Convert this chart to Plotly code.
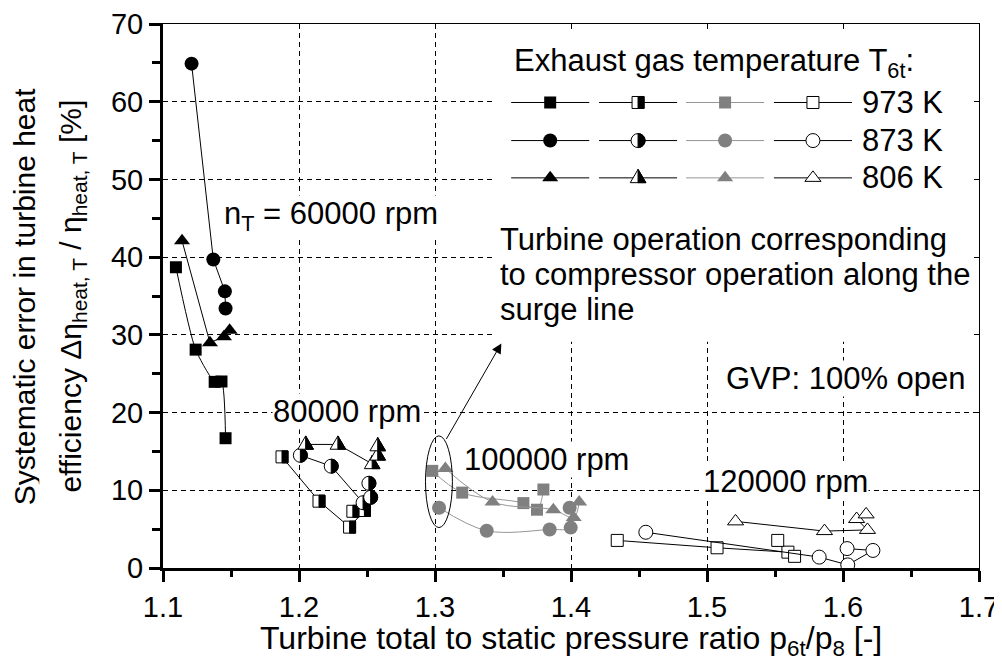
import plotly.graph_objects as go

# ---------------- data ----------------
# 60000 rpm (black filled markers)
x60_sq = [1.1095, 1.124, 1.138, 1.143, 1.146]
y60_sq = [38.7, 28.1, 23.95, 24.0, 16.7]
x60_ci = [1.121, 1.137, 1.1455, 1.146]
y60_ci = [64.9, 39.7, 35.6, 33.4]
x60_tr = [1.114, 1.1345, 1.1448, 1.149]
y60_tr = [42.1, 29.0, 29.75, 30.6]

# 80000 rpm (half-filled markers)
x80_sq = [1.1875, 1.2147, 1.2372, 1.2481, 1.2396]
y80_sq = [14.3, 8.6, 5.26, 7.4, 7.3]
x80_ci = [1.2010, 1.2237, 1.2471, 1.2527, 1.2514]
y80_ci = [14.5, 13.1, 8.4, 9.1, 10.9]
x80_tr = [1.2049, 1.2286, 1.2538, 1.2579, 1.2579]
y80_tr = [15.9, 15.9, 13.4, 14.5, 15.7]

# 100000 rpm (grey filled markers)
x100_sq = [1.298, 1.32, 1.365, 1.375, 1.3797]
y100_sq = [12.5, 9.7, 8.35, 7.5, 10.1]
x100_ci = [1.303, 1.338, 1.3843, 1.3998, 1.399]
y100_ci = [7.76, 4.8, 4.96, 5.2, 7.76]
x100_tr = [1.3076, 1.3423, 1.387, 1.402, 1.406]
y100_tr = [12.8, 8.5, 7.5, 6.5, 8.5]

# 120000 rpm (open markers)
x120_sq = [1.434, 1.5074, 1.5595, 1.552, 1.5644]
y120_sq = [3.55, 2.6, 2.04, 3.55, 1.5]
x120_ci = [1.455, 1.5825, 1.6035, 1.622, 1.603]
y120_ci = [4.6, 1.4, 0.4, 2.26, 2.5]
x120_tr = [1.521, 1.5864, 1.618, 1.61, 1.617]
y120_tr = [6.0, 4.75, 4.9, 6.3, 6.9]

temp_labels = ["973 K", "873 K", "806 K"]
x_ticks = [1.1, 1.2, 1.3, 1.4, 1.5, 1.6, 1.7]
y_ticks = [0, 10, 20, 30, 40, 50, 60, 70]

# ---------------- styles ----------------
FONT = "Liberation Sans, Arial, sans-serif"
GREY_M = "#808080"
GREY_L = "#969696"
SYM = {"sq": "square", "ci": "circle", "tr": "triangle-up"}
MSIZE = {"sq": 12, "ci": 14, "tr": 14}

fig = go.Figure()


def half_markers(xs, ys, kind, xref, yref):
    """Half-filled (right half black) markers drawn as pixel-sized shapes anchored on data."""
    for x, y in zip(xs, ys):
        common = dict(xref=xref, yref=yref, xsizemode="pixel", ysizemode="pixel",
                      xanchor=x, yanchor=y, layer="above")
        if kind == "sq":
            a = 6
            fig.add_shape(type="rect", x0=-a, x1=a, y0=-a, y1=a, fillcolor="white",
                          line=dict(color="black", width=1), **common)
            fig.add_shape(type="rect", x0=0, x1=a, y0=-a, y1=a, fillcolor="black",
                          line=dict(color="black", width=1), **common)
        elif kind == "ci":
            r = 7
            k = 0.5523 * r
            fig.add_shape(type="circle", x0=-r, x1=r, y0=-r, y1=r, fillcolor="white",
                          line=dict(color="black", width=1), **common)
            fig.add_shape(type="path",
                          path=f"M0,{r} C{k},{r} {r},{k} {r},0 C{r},{-k} {k},{-r} 0,{-r} Z",
                          fillcolor="black", line=dict(color="black", width=1), **common)
        else:
            top, bot, hw = 8.5, -4.8, 7.8
            fig.add_shape(type="path", path=f"M0,{top} L{hw},{bot} L{-hw},{bot} Z",
                          fillcolor="white", line=dict(color="black", width=1), **common)
            fig.add_shape(type="path", path=f"M0,{top} L{hw},{bot} L0,{bot} Z",
                          fillcolor="black", line=dict(color="black", width=1), **common)


def add_series(x, y, kind, style, shape="linear", smooth=1.0, xa="x", ya="y"):
    line = dict(color=GREY_L if style == "grey" else "black", width=1, shape=shape)
    if shape == "spline":
        line["smoothing"] = smooth
    if style == "black":
        marker = dict(symbol=SYM[kind], size=MSIZE[kind], color="black", line=dict(width=0))
    elif style == "grey":
        marker = dict(symbol=SYM[kind], size=MSIZE[kind], color=GREY_M, line=dict(width=0))
    elif style == "open":
        marker = dict(symbol=SYM[kind], size=MSIZE[kind], color="white",
                      line=dict(width=1, color="black"))
    else:
        marker = None
    fig.add_trace(go.Scatter(x=x, y=y, mode="lines" if marker is None else "lines+markers",
                             xaxis=xa, yaxis=ya, line=line, marker=marker,
                             showlegend=False, hoverinfo="skip"))
    if style == "half":
        half_markers(x, y, kind, xa, ya)


# data series
add_series(x60_sq, y60_sq, "sq", "black", "spline", 0.6)
add_series(x60_ci, y60_ci, "ci", "black")
add_series(x60_tr, y60_tr, "tr", "black")
add_series(x80_sq, y80_sq, "sq", "half")
add_series(x80_ci, y80_ci, "ci", "half")
add_series(x80_tr, y80_tr, "tr", "half")
add_series(x100_sq, y100_sq, "sq", "grey", "spline", 1.0)
add_series(x100_ci, y100_ci, "ci", "grey", "spline", 1.0)
add_series(x100_tr, y100_tr, "tr", "grey", "spline", 1.0)
add_series(x120_sq, y120_sq, "sq", "open")
add_series(x120_ci, y120_ci, "ci", "open")
add_series(x120_tr, y120_tr, "tr", "open")

# ---------------- legend samples (drawn on overlay axes x2/y2) ----------------
LEG_COL_X = [1.3847, 1.4493, 1.5133, 1.5779]
LEG_HALF = 0.0287
LEG_ROW_Y = [59.9, 55.0, 50.2]
LEG_STYLES = ["black", "half", "grey", "open"]
for r, kind in enumerate(["sq", "ci", "tr"]):
    for c, st in enumerate(LEG_STYLES):
        cx = LEG_COL_X[c]
        fig.add_trace(go.Scatter(x=[cx - LEG_HALF, cx + LEG_HALF], y=[LEG_ROW_Y[r]] * 2,
                                 mode="lines", xaxis="x2", yaxis="y2",
                                 line=dict(color=GREY_L if st == "grey" else "black", width=1),
                                 showlegend=False, hoverinfo="skip"))
        if st == "half":
            half_markers([cx], [LEG_ROW_Y[r]], kind, "x2", "y2")
        else:
            add_series([cx], [LEG_ROW_Y[r]], kind, st, xa="x2", ya="y2")
    fig.add_annotation(x=1.6128, y=LEG_ROW_Y[r], xref="x", yref="y", text=temp_labels[r],
                       showarrow=False, xanchor="left", yanchor="middle",
                       font=dict(family=FONT, size=31, color="black"))

# legend title
fig.add_annotation(x=1.3567, y=65.0, xref="x", yref="y",
                   text="Exhaust gas temperature T<sub>6t</sub>:",
                   showarrow=False, xanchor="left", yanchor="middle",
                   font=dict(family=FONT, size=31, color="black"))

# white background behind legend + explanatory text (hides gridlines)
fig.add_shape(type="rect", xref="x", yref="y", x0=1.3443, x1=1.6985, y0=29.1, y1=70,
              fillcolor="white", line=dict(width=0), layer="between")

# explanatory text
for txt, yy in [("Turbine operation corresponding", 42.3),
                ("to compressor operation along the", 37.75),
                ("surge line", 33.2)]:
    fig.add_annotation(x=1.3464, y=yy, xref="x", yref="y", text=txt, showarrow=False,
                       xanchor="left", yanchor="middle",
                       font=dict(family=FONT, size=31, color="black"))

# labels with white boxes
for txt, xx, yy in [("n<sub>T</sub> = 60000 rpm", 1.1443, 45.3),
                    ("80000 rpm", 1.1804, 20.2),
                    ("100000 rpm", 1.3207, 14.0),
                    ("120000 rpm", 1.4963, 11.1),
                    ("GVP: 100% open", 1.5131, 24.4)]:
    fig.add_annotation(x=xx, y=yy, xref="x", yref="y", text=txt, showarrow=False,
                       xanchor="left", yanchor="middle", bgcolor="white", borderpad=0,
                       font=dict(family=FONT, size=31, color="black"))

# ellipse and arrow
fig.add_shape(type="circle", xref="x", yref="y", x0=1.2930, x1=1.3128, y0=5.2, y1=17.0,
              line=dict(color="black", width=1), layer="above")
fig.add_annotation(x=1.3488, y=28.9, ax=1.3077, ay=16.4, xref="x", yref="y",
                   axref="x", ayref="y", text="", showarrow=True, arrowhead=2,
                   arrowsize=2, arrowwidth=1, arrowcolor="black", standoff=0, startstandoff=0)

# axis titles (y title as two rotated lines)
fig.add_annotation(x=-0.1700, y=0.5, xref="paper", yref="paper", textangle=-90,
                   text="Systematic error in turbine heat", height=30, borderpad=0,
                   showarrow=False, xanchor="center", yanchor="middle",
                   font=dict(family=FONT, size=30, color="black"))
fig.add_annotation(x=-0.112, y=0.5, xref="paper", yref="paper", textangle=-90,
                   text="efficiency \u0394\u03b7<sub>heat, T</sub> / \u03b7<sub>heat, T</sub> [%]",
                   showarrow=False, xanchor="center", yanchor="middle",
                   font=dict(family=FONT, size=30, color="black"))
fig.add_annotation(x=0.5, y=-0.1335, xref="paper", yref="paper",
                   text="Turbine total to static pressure ratio p<sub>6t</sub>/p<sub>8</sub> [-]",
                   showarrow=False, xanchor="center", yanchor="middle",
                   font=dict(family=FONT, size=32, color="black"))

grid = dict(showgrid=True, gridcolor="black", gridwidth=1, griddash="5px,4px")

# margins compensate the 8px default page margin of the html body
fig.update_layout(
    width=1002, height=666,
    margin=dict(l=155, r=31, t=16, b=106, autoexpand=False),
    paper_bgcolor="white", plot_bgcolor="white",
    showlegend=False,
    font=dict(family=FONT, size=29, color="black"),
    xaxis=dict(range=[1.1, 1.7], tickvals=x_ticks, ticktext=[f"{v:.1f}" for v in x_ticks],
               ticks="outside", ticklen=11, tickwidth=2.5, tickcolor="black",
               showline=True, linewidth=3, linecolor="black", zeroline=False, automargin=False,
               tickfont=dict(family=FONT, size=29, color="black"),
               minor=dict(dtick=0.05, tick0=1.1, ticks="outside", ticklen=6, tickwidth=2.5,
                          tickcolor="black", showgrid=False),
               **grid),
    yaxis=dict(range=[0, 70], tickvals=y_ticks, ticktext=[str(v) for v in y_ticks],
               ticks="outside", ticklen=11, tickwidth=2.5, tickcolor="black",
               showline=True, linewidth=3, linecolor="black", zeroline=False, automargin=False,
               tickfont=dict(family=FONT, size=29, color="black"),
               minor=dict(dtick=5, tick0=0, ticks="outside", ticklen=8, tickwidth=2.5,
                          tickcolor="black", showgrid=False),
               **grid),
    xaxis2=dict(overlaying="x", anchor="y2", side="top", range=[1.1, 1.7],
                tickvals=x_ticks, ticks="inside", ticklen=5, tickwidth=1, tickcolor="black",
                showticklabels=False, showline=True, linewidth=1, linecolor="black",
                showgrid=False, zeroline=False, automargin=False),
    yaxis2=dict(overlaying="y", anchor="x2", side="right", range=[0, 70],
                tickvals=y_ticks, ticks="inside", ticklen=5, tickwidth=1, tickcolor="black",
                showticklabels=False, showline=True, linewidth=1, linecolor="black",
                showgrid=False, zeroline=False, automargin=False),
)

fig.write_html("out.html")
